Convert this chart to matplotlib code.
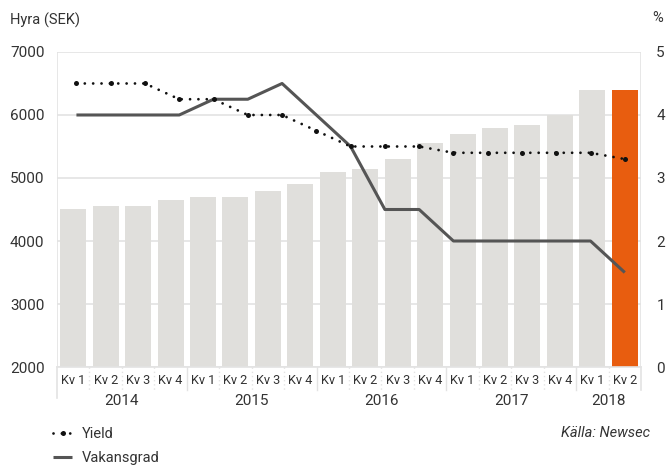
import numpy as np
import matplotlib
matplotlib.use("Agg")
import matplotlib.pyplot as plt
from matplotlib.transforms import blended_transform_factory

plt.rcParams['font.family'] = ['Roboto', 'DejaVu Sans']

# data
quarters = ['Kv 1', 'Kv 2', 'Kv 3', 'Kv 4'] * 4 + ['Kv 1', 'Kv 2']
years = ['2014', '2015', '2016', '2017', '2018']
year_counts = [4, 4, 4, 4, 2]
hyra = [4500, 4550, 4550, 4650, 4700, 4700, 4800, 4900, 5100,
        5150, 5300, 5550, 5700, 5800, 5840, 6000, 6400, 6400]
yield_pct = [4.5, 4.5, 4.5, 4.25, 4.25, 4.0, 4.0, 3.75, 3.5,
             3.5, 3.5, 3.4, 3.4, 3.4, 3.4, 3.4, 3.3]
vakans = [4.0, 4.0, 4.0, 4.0, 4.25, 4.25, 4.5, 4.0, 3.5,
          2.5, 2.5, 2.0, 2.0, 2.0, 2.0, 2.0, 1.5]

TXT = '#333333'
GRID = '#e3e3e3'
BAR = '#e0dfdc'
ORANGE = '#e85d0f'

fig = plt.figure(figsize=(6.71, 4.67), dpi=100)
ax = fig.add_axes([0.0849, 0.2141, 0.8704, 0.6746])
ax2 = ax.twinx()

n = len(hyra)
x = np.arange(n)
colors = [BAR] * (n - 1) + [ORANGE]
ax.bar(x, hyra, width=0.8, color=colors, zorder=2)
ax.set_xlim(-0.5, n - 0.5)
ax.set_ylim(2000, 7000)
ax.set_yticks(range(2000, 7001, 1000))
ax.grid(axis='y', color=GRID, linewidth=1.2, zorder=0)
ax.set_axisbelow(True)

# lines span the same range as the bars
xl = np.linspace(0.1, n - 1, len(yield_pct))
ax2.plot(xl, vakans, color='#555555', linewidth=2.2, solid_capstyle='butt',
         label='Vakansgrad', zorder=3)
ax2.plot(xl, yield_pct, color='#111111', linewidth=2.0, linestyle=(0, (0.01, 3.0)),
         dash_capstyle='round', marker='o', markersize=3.6, markeredgewidth=0,
         label='Yield', zorder=4)
ax2.set_ylim(0, 5)
ax2.set_yticks(range(0, 6))

for a in (ax, ax2):
    for s in a.spines.values():
        s.set_visible(False)
    a.tick_params(length=0, labelsize=11, colors=TXT)
ax.tick_params(axis='y', pad=9)
ax2.tick_params(axis='y', pad=11)

# frame lines
ax.axvline(-0.5, color=GRID, linewidth=1.2, zorder=1)
ax.axvline(n - 0.5, color=GRID, linewidth=1.2, zorder=1)

# quarter labels and separators
ax.set_xticks(x)
ax.set_xticklabels(quarters, fontsize=9.2)
ax.tick_params(axis='x', pad=5)
tr = blended_transform_factory(ax.transData, ax.transAxes)
ax.plot([-0.5, n - 0.5], [0, 0], color=GRID, linewidth=1.2, transform=tr, clip_on=False)
bounds = np.cumsum(year_counts)[:-1] - 0.5
for b in np.arange(0.5, n - 1, 1.0):
    if b in bounds:
        ax.plot([b, b], [0, -0.073], color=GRID, linewidth=1.0, transform=tr, clip_on=False)
    else:
        ax.plot([b, b], [0, -0.073], color=GRID, linewidth=1.0, linestyle=(0, (1, 2)),
                transform=tr, clip_on=False)
ax.plot([-0.5, -0.5], [0, -0.098], color=GRID, linewidth=1.2, transform=tr, clip_on=False)
ax.plot([n - 0.5, n - 0.5], [0, -0.073], color=GRID, linewidth=1.2, transform=tr, clip_on=False)

start = 0
for yr, c in zip(years, year_counts):
    ax.text(start + (c - 1) / 2, -0.108, yr, transform=tr, ha='center', va='center',
            fontsize=11, color=TXT)
    start += c

fig.text(10 / 671, 1 - 20 / 467, 'Hyra (SEK)', fontsize=10.5, color=TXT, va='center')
fig.text(652 / 671, 1 - 18 / 467, '%', fontsize=10.5, color=TXT, va='center')

fig.legend(handles=ax2.get_lines()[::-1], loc='upper left', bbox_to_anchor=(40 / 671, 1 - 414 / 467),
           frameon=False, handlelength=1.3, handletextpad=0.7, labelspacing=0.7,
           fontsize=10.5, labelcolor=TXT, numpoints=1)
fig.text(650 / 671, 1 - 433 / 467, 'Källa: Newsec', fontsize=10.5, color=TXT,
         style='italic', ha='right', va='center')

fig.savefig('out.png', dpi=100)
